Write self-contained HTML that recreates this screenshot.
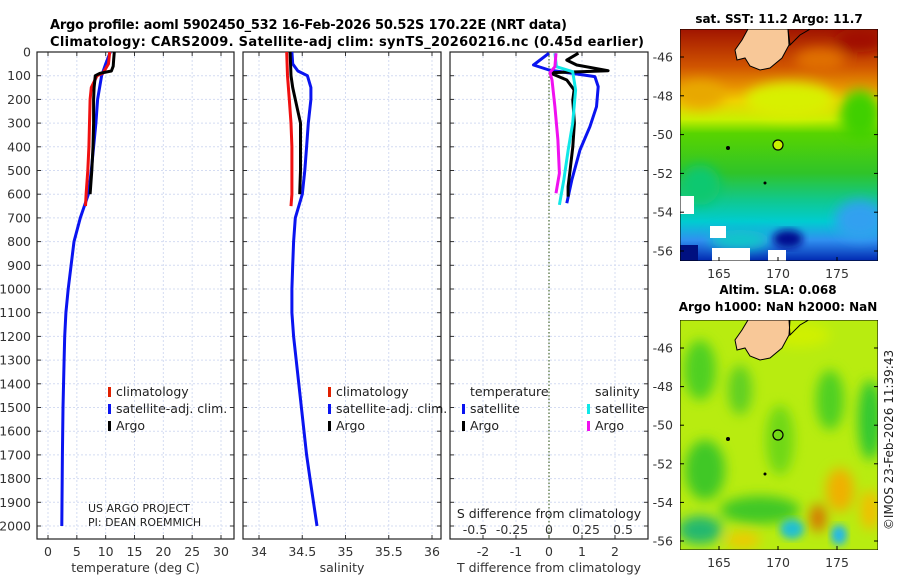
<!DOCTYPE html>
<html><head><meta charset="utf-8"><style>
body{margin:0;background:#fff}
svg{display:block;font-family:"DejaVu Sans","Liberation Sans",sans-serif}
</style></head><body>
<svg id="fig" width="900" height="580" viewBox="0 0 900 580" xmlns="http://www.w3.org/2000/svg">
<defs>
<filter id="blur" x="-20%" y="-20%" width="140%" height="140%"><feGaussianBlur stdDeviation="4"/></filter>
<filter id="blur2" x="-30%" y="-30%" width="160%" height="160%"><feGaussianBlur stdDeviation="6"/></filter>
<linearGradient id="sstg" x1="0" y1="0" x2="0" y2="1">
<stop offset="0" stop-color="#a01400"/><stop offset="0.05" stop-color="#b02800"/><stop offset="0.16" stop-color="#d05400"/>
<stop offset="0.25" stop-color="#e89400"/><stop offset="0.31" stop-color="#f0d000"/><stop offset="0.39" stop-color="#c8f000"/>
<stop offset="0.45" stop-color="#58d400"/><stop offset="0.62" stop-color="#30c428"/><stop offset="0.74" stop-color="#10c890"/>
<stop offset="0.83" stop-color="#00ccd0"/><stop offset="0.91" stop-color="#3090f0"/><stop offset="1" stop-color="#0028b0"/>
</linearGradient>
<clipPath id="clipA"><rect x="680" y="29" width="198" height="232"/></clipPath>
<clipPath id="clipB"><rect x="680" y="320" width="198" height="230"/></clipPath>
</defs>
<g id="titles">
<text x="50" y="29" font-size="13" font-weight="bold" textLength="517">Argo profile: aoml 5902450_532 16-Feb-2026 50.52S 170.22E (NRT data)</text>
<text x="50" y="46" font-size="13" font-weight="bold" textLength="594">Climatology: CARS2009. Satellite-adj clim: synTS_20260216.nc (0.45d earlier)</text>
</g>
<g id="plots"></g>
<g id="maps">
<text x="779" y="23" font-size="12" font-weight="bold" text-anchor="middle">sat. SST: 11.2 Argo: 11.7</text>
<g clip-path="url(#clipA)">
<rect x="680" y="29" width="198" height="232" fill="url(#sstg)"/>
<g filter="url(#blur2)">
<ellipse cx="790" cy="100" rx="45" ry="18" fill="#d8f000"/>
<ellipse cx="700" cy="95" rx="25" ry="14" fill="#e8a800"/>
<ellipse cx="820" cy="60" rx="25" ry="12" fill="#e07000"/>
<ellipse cx="860" cy="40" rx="25" ry="12" fill="#a01000"/>
<ellipse cx="860" cy="115" rx="20" ry="25" fill="#40d000"/>
<ellipse cx="700" cy="185" rx="20" ry="20" fill="#10c870"/>
<ellipse cx="860" cy="220" rx="25" ry="20" fill="#30a0f0"/>
<ellipse cx="740" cy="240" rx="30" ry="10" fill="#10c8c8"/>
</g>
<ellipse cx="788" cy="239" rx="15" ry="9" fill="#000c90" filter="url(#blur)"/>
<rect x="680" y="245" width="18" height="16" fill="#001080"/>
<rect x="680" y="196" width="14" height="18" fill="#fff"/>
<rect x="710" y="226" width="16" height="12" fill="#fff"/>
<rect x="712" y="248" width="38" height="13" fill="#fff"/>
<rect x="768" y="250" width="18" height="11" fill="#fff"/>
<rect x="680" y="29" width="198" height="232" fill="none" stroke="#000" stroke-width="1"/>
</g>
<g clip-path="url(#clipB)">
<rect x="680" y="320" width="198" height="230" fill="#b8ec10"/>
<g filter="url(#blur2)">
<ellipse cx="700" cy="370" rx="16" ry="30" fill="#50d020"/>
<ellipse cx="740" cy="390" rx="12" ry="25" fill="#60d020"/>
<ellipse cx="705" cy="470" rx="20" ry="30" fill="#40c828"/>
<ellipse cx="700" cy="530" rx="22" ry="14" fill="#20b870"/>
<ellipse cx="780" cy="440" rx="14" ry="35" fill="#70d818"/>
<ellipse cx="830" cy="400" rx="14" ry="30" fill="#50d020"/>
<ellipse cx="870" cy="420" rx="12" ry="40" fill="#30c830"/>
<ellipse cx="760" cy="510" rx="40" ry="14" fill="#40c828"/>
<ellipse cx="840" cy="490" rx="14" ry="22" fill="#f0b000"/>
<ellipse cx="818" cy="518" rx="8" ry="14" fill="#d87000"/>
<ellipse cx="870" cy="510" rx="10" ry="20" fill="#f0c000"/>
<ellipse cx="743" cy="540" rx="18" ry="8" fill="#f0c800"/>
<ellipse cx="800" cy="335" rx="30" ry="12" fill="#d0f000"/>
</g>
<ellipse cx="792" cy="529" rx="12" ry="10" fill="#20c0d0" filter="url(#blur)"/>
<ellipse cx="839" cy="535" rx="8" ry="10" fill="#20b8e8" filter="url(#blur)"/>
<rect x="680" y="320" width="198" height="230" fill="none" stroke="#000" stroke-width="1"/>
</g>
<g clip-path="url(#clipA)">
<path d="M748,29 L788,29 L789,45 L782,58 L770,68 L760,70 L750,66 L745,58 L737,60 L735,50 L742,40 Z" fill="#f8c898" stroke="#000" stroke-width="1"/>
<path d="M788,29 L790,45 L800,35 L812,28" stroke="#000" fill="none"/>
<circle cx="728" cy="148" r="2" fill="#000"/><circle cx="765" cy="183" r="1.5" fill="#000"/>
<circle cx="778" cy="145" r="5" fill="#c8f000" stroke="#000" stroke-width="1.2"/>
</g>
<g clip-path="url(#clipB)">
<path d="M748,320 L790,320 L789,335 L782,348 L770,358 L760,360 L750,356 L745,348 L737,350 L735,340 L742,330 Z" fill="#f8c898" stroke="#000" stroke-width="1"/>
<path d="M789,320 L790,335 L800,325 L812,318" stroke="#000" fill="none"/>
<circle cx="728" cy="439" r="2" fill="#000"/><circle cx="765" cy="474" r="1.5" fill="#000"/>
<circle cx="778" cy="435" r="5" fill="none" stroke="#000" stroke-width="1.2"/>
</g>
<text x="778" y="294" font-size="12" font-weight="bold" text-anchor="middle">Altim. SLA: 0.068</text>
<text x="778" y="311" font-size="12" font-weight="bold" text-anchor="middle">Argo h1000: NaN h2000: NaN</text>
<text transform="translate(893,440) rotate(-90)" font-size="12" text-anchor="middle" fill="#222">©IMOS 23-Feb-2026 11:39:43</text>
</g>
</svg>
<script>
// ---- data ----
const tDepthClim = [0,50,90,100,150,200,300,400,500,600,650];
const tClim = [10.7,10.5,9.5,8.5,7.5,7.3,7.2,7.1,6.9,6.6,6.5];
const tDepthArgo = [0,30,60,80,90,100,150,200,300,400,500,600];
const tArgo = [11.5,11.4,11.3,11.0,9.0,8.2,8.0,7.9,7.9,7.8,7.6,7.3];
const tDepthSat = [0,50,100,200,300,400,500,600,700,800,900,1000,1100,1200,1300,1500,1700,2000];
const tSat = [10.8,10.0,9.3,8.6,8.3,7.9,7.5,7.0,5.6,4.5,4.0,3.5,3.1,2.9,2.8,2.6,2.5,2.4];
const sDepthClim = [0,100,200,300,400,500,600,650];
const sClim = [34.32,34.33,34.35,34.37,34.38,34.38,34.38,34.37];
const sDepthArgo = [0,100,150,200,250,300,400,500,600];
const sArgo = [34.36,34.37,34.39,34.42,34.45,34.48,34.48,34.48,34.47];
const sDepthSat = [0,50,80,100,150,200,300,400,500,600,700,800,900,1000,1100,1200,1300,1400,1500,1600,1700,1800,1900,2000];
const sSat = [34.38,34.39,34.45,34.56,34.6,34.6,34.57,34.55,34.53,34.5,34.42,34.4,34.39,34.38,34.38,34.4,34.43,34.46,34.49,34.52,34.55,34.59,34.63,34.67];
const dtDepthArgo = [5,34,55,79,83,87,92,118,160,203,300,400,498,568,610];
const dtArgo = [0.89,0.54,0.84,1.79,0.94,0.13,0.09,0.54,0.76,0.72,0.77,0.72,0.64,0.58,0.58];
const dtDepthSat = [5,55,76,104,146,231,315,413,540,638];
const dtSat = [0.0,-0.47,0.0,1.39,1.49,1.44,1.24,0.94,0.69,0.54];
const dsDepthSat = [5,62,83,160,300,413,540,645];
const dsSat = [0.04,0.05,0.16,0.18,0.16,0.13,0.10,0.07];
const dsDepthArgo = [5,62,87,118,231,371,512,596];
const dsArgo = [0.047,0.04,0.007,0.02,0.04,0.06,0.07,0.047];
const depthTicks = [0,100,200,300,400,500,600,700,800,900,1000,1100,1200,1300,1400,1500,1600,1700,1800,1900,2000];
const tTicks = [0,5,10,15,20,25,30];
const sTicks = [34,34.5,35,35.5,36];
const sTickLabels = ["34","34.5","35","35.5","36"];
const dtTicks = [-2,-1,0,1,2];
const dsTicks = [-0.5,-0.25,0,0.25,0.5];
const dsTickLabels = ["-0.5","-0.25","0","0.25","0.5"];
const latTicks = [-46,-48,-50,-52,-54,-56];
const lonTicks = [165,170,175];

const NS="http://www.w3.org/2000/svg";
const g=document.getElementById('plots');
function el(tag,attrs,parent,txt){const e=document.createElementNS(NS,tag);for(const k in attrs)e.setAttribute(k,attrs[k]);if(txt!==undefined)e.textContent=txt;(parent||g).appendChild(e);return e;}
const Y0=52,Y1=539;
function yScale(d){return Y0+(d-0)*(526-52)/2000;}
function lin(d0,d1,p0,p1){return v=>p0+(v-d0)*(p1-p0)/(d1-d0);}
const panels=[{x0:37,x1:234,sx:lin(0,30,48,221),ticks:tTicks,labels:tTicks.map(String),title:"temperature (deg C)"},
{x0:243,x1:441,sx:lin(34,36,259,432),ticks:sTicks,labels:sTickLabels,title:"salinity"},
{x0:450,x1:648,sx:lin(-2,2,483,615),ticks:dtTicks,labels:dtTicks.map(String),title:"T difference from climatology"}];
const dsx=lin(0,0.5,549,623);
const GRID='#d4dcf2';
panels.forEach((p,i)=>{
  const pg=el('g',{});
  
  
  p.ticks.forEach(t=>{const x=p.sx(t);el('line',{x1:x,x2:x,y1:Y0,y2:Y1,stroke:GRID,'stroke-dasharray':'2,2','stroke-width':1},pg);
    el('line',{x1:x,x2:x,y1:Y1,y2:Y1-4,stroke:'#333'},pg);el('line',{x1:x,x2:x,y1:Y0,y2:Y0+4,stroke:'#333'},pg);});
  depthTicks.forEach(d=>{const y=yScale(d);el('line',{x1:p.x0,x2:p.x1,y1:y,y2:y,stroke:GRID,'stroke-dasharray':'2,2','stroke-width':1},pg);
    el('line',{x1:p.x0,x2:p.x0+4,y1:y,y2:y,stroke:'#333'},pg);el('line',{x1:p.x1,x2:p.x1-4,y1:y,y2:y,stroke:'#333'},pg);});
  el('rect',{x:p.x0,y:Y0,width:p.x1-p.x0,height:Y1-Y0,fill:'none',stroke:'#222','stroke-width':1.2},pg);
  p.ticks.forEach((t,j)=>{const tx=el('text',{x:p.sx(t),y:556,'font-size':12.5,'text-anchor':'middle',fill:'#333'},pg,p.labels[j]);
    });
  const xt=el('text',{x:(p.x0+p.x1)/2,y:572,'font-size':12.5,'text-anchor':'middle',fill:'#333'},pg,p.title);
  
  
});
depthTicks.forEach(d=>{const t=el('text',{x:31,y:yScale(d)+4.5,'font-size':12.5,'text-anchor':'end',fill:'#333'},g,String(d));
  });
el('line',{x1:549,x2:549,y1:Y0,y2:Y1,stroke:'#4a6a30','stroke-dasharray':'1.5,2','stroke-width':1.2});
function line(xs,ds,sx,color,name){
  const pts=xs.map((v,i)=>sx(v).toFixed(1)+','+yScale(ds[i]).toFixed(1)).join(' ');
  const l=el('polyline',{points:pts,fill:'none',stroke:color,'stroke-width':3,'stroke-linejoin':'round'});
  
  
}
const P=panels;
line(tSat,tDepthSat,P[0].sx,'#0a14f0','temp-satellite-line');
line(tClim,tDepthClim,P[0].sx,'#f01010','temp-climatology-line');
line(tArgo,tDepthArgo,P[0].sx,'#000','temp-argo-line');
line(sSat,sDepthSat,P[1].sx,'#0a14f0','sal-satellite-line');
line(sClim,sDepthClim,P[1].sx,'#f01010','sal-climatology-line');
line(sArgo,sDepthArgo,P[1].sx,'#000','sal-argo-line');
line(dtSat,dtDepthSat,P[2].sx,'#0a14f0','tdiff-satellite-line');
line(dtArgo,dtDepthArgo,P[2].sx,'#000','tdiff-argo-line');
line(dsSat,dsDepthSat,dsx,'#10e8e8','sdiff-satellite-line');
line(dsArgo,dsDepthArgo,dsx,'#f010f0','sdiff-argo-line');
dsTicks.forEach((t,j)=>{const tx=el('text',{x:dsx(t),y:534,'font-size':12.5,'text-anchor':'middle',fill:'#333'},g,dsTickLabels[j]);
  });
const st=el('text',{x:549,y:518,'font-size':12.5,'text-anchor':'middle',fill:'#222'},g,'S difference from climatology');


function legend(x,y,color,label,name){
  const lg=el('g',{});
  
  
  el('rect',{x:x,y:y-9,width:3,height:10,fill:color},lg);
  el('text',{x:x+8,y:y,'font-size':12.5,fill:'#222'},lg,label);
}
legend(108,396,'#e02000','climatology','legend-climatology');
legend(108,413,'#0a14f0','satellite-adj. clim.','legend-satellite-clim');
legend(108,430,'#000','Argo','legend-argo');
legend(328,396,'#e02000','climatology','legend-sal-climatology');
legend(328,413,'#0a14f0','satellite-adj. clim.','legend-sal-satellite');
legend(328,430,'#000','Argo','legend-sal-argo');
el('text',{x:470,y:396,'font-size':12.5,fill:'#222'},g,'temperature');
el('text',{x:595,y:396,'font-size':12.5,fill:'#222'},g,'salinity');
legend(462,413,'#0a14f0','satellite','legend-tdiff-satellite');
legend(462,430,'#000','Argo','legend-tdiff-argo');
legend(587,413,'#10e8e8','satellite','legend-sdiff-satellite');
legend(587,430,'#f010f0','Argo','legend-sdiff-argo');
const c1=el('text',{x:88,y:512,'font-size':11,fill:'#222'},g,'US ARGO PROJECT');

const c2=el('text',{x:88,y:526,'font-size':11,fill:'#222'},g,'PI: DEAN ROEMMICH');

const mg=document.getElementById('maps');
const lonX=lin(165,170,719,778);
[[29,261,lin(-46,-56,57,251)],[320,550,lin(-46,-56,348,541)]].forEach(([yt,yb,ly],k)=>{
  latTicks.forEach(t=>{const y=ly(t);el('text',{x:673,y:y+4.5,'font-size':12.5,'text-anchor':'end',fill:'#333'},mg,String(t));
    el('line',{x1:680,x2:684,y1:y,y2:y,stroke:'#000'},mg);el('line',{x1:878,x2:874,y1:y,y2:y,stroke:'#000'},mg);});
  lonTicks.forEach(t=>{const x=lonX(t);el('text',{x:x,y:yb+17,'font-size':12.5,'text-anchor':'middle',fill:'#333'},mg,String(t));
    el('line',{x1:x,x2:x,y1:yb,y2:yb-4,stroke:'#000'},mg);});
});
</script>
</body></html>
